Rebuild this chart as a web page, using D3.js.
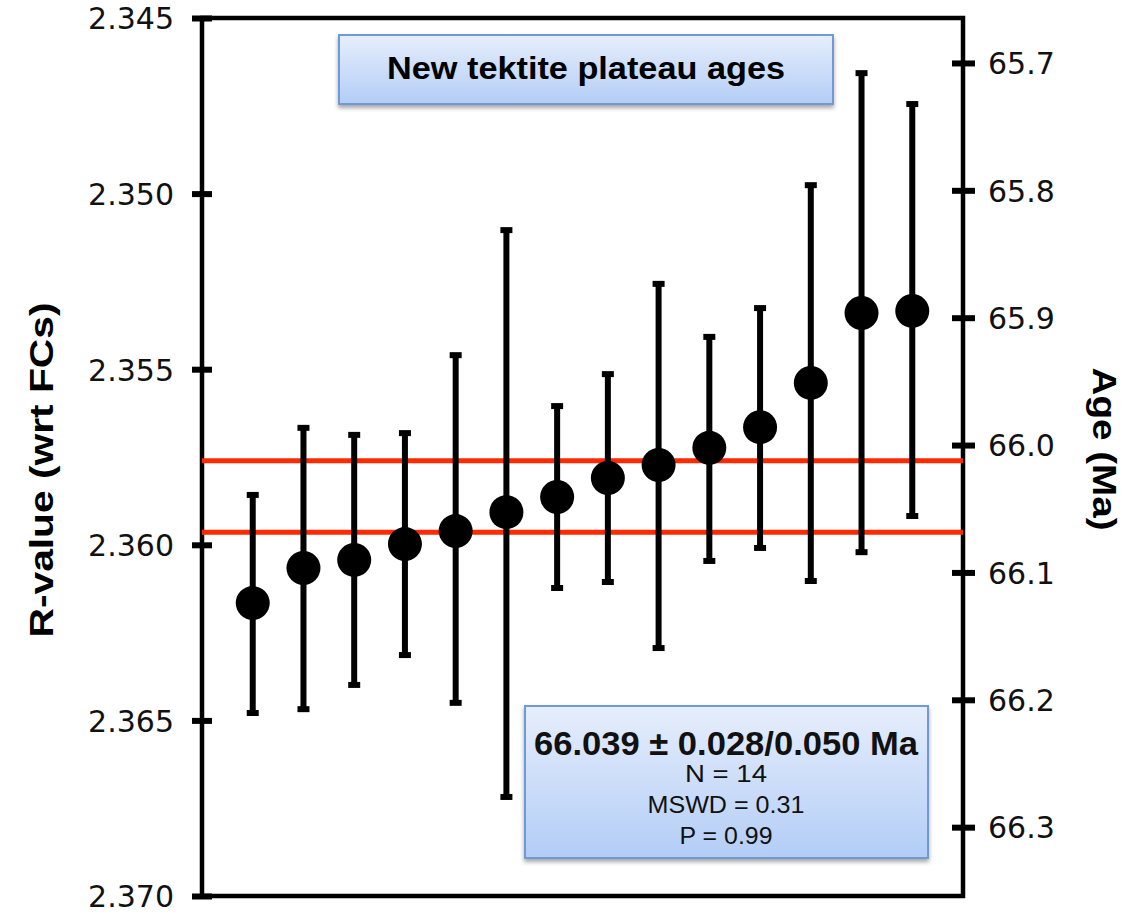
<!DOCTYPE html>
<html>
<head>
<meta charset="utf-8">
<script src="https://cdn.jsdelivr.net/npm/d3@7"></script>
<style>
  body { margin: 0; background: #fff; }
  svg { display: block; }
</style>
</head>
<body>
<svg id="chart"></svg>
<script>
// tektite plateau R-values
const samples = [1, 2, 3, 4, 5, 6, 7, 8, 9, 10, 11, 12, 13, 14];
const rValue = [2.36166, 2.36066, 2.36043, 2.35998, 2.35961, 2.35907, 2.35864,
                2.35810, 2.35773, 2.35724, 2.35665, 2.35539, 2.35340, 2.35334];
const rUpper = [2.35858, 2.35667, 2.35687, 2.35682, 2.35460, 2.35104, 2.35605,
                2.35514, 2.35257, 2.35408, 2.35326, 2.34976, 2.34657, 2.34745];
const rLower = [2.36479, 2.36468, 2.36399, 2.36314, 2.36450, 2.36718, 2.36123,
                2.36106, 2.36294, 2.36046, 2.36009, 2.36103, 2.36021, 2.35918];
const meanBand = [2.35761, 2.35964];

const rTicks = [2.345, 2.350, 2.355, 2.360, 2.365, 2.370];
const ageTicks = [65.7, 65.8, 65.9, 66.0, 66.1, 66.2, 66.3];
const ageAnchorR = [2.34628, 2.36804]; // R at 65.7 and 66.3 Ma

const titleText = 'New tektite plateau ages';
const statLines = ['66.039 \u00b1 0.028/0.050 Ma', 'N = 14', 'MSWD = 0.31', 'P = 0.99'];

const W = 1130, H = 915;
const margin = { top: 18, right: 167, bottom: 19, left: 202 };

const svg = d3.select('#chart').attr('width', W).attr('height', H);

const x = d3.scaleLinear().domain([0, 15]).range([margin.left, W - margin.right]);
const y = d3.scaleLinear().domain([2.345, 2.370]).range([margin.top, H - margin.bottom]);
const age = d3.scaleLinear().domain([65.7, 66.3]).range(ageAnchorR.map(y));

const defs = svg.append('defs');
const grad = defs.append('linearGradient').attr('id', 'boxFill')
  .attr('x1', 0).attr('y1', 0).attr('x2', 0).attr('y2', 1);
grad.append('stop').attr('offset', '0%').attr('stop-color', '#e6eefc');
grad.append('stop').attr('offset', '100%').attr('stop-color', '#b3cdf6');
defs.append('filter').attr('id', 'shadow')
  .attr('x', '-10%').attr('y', '-10%').attr('width', '120%').attr('height', '130%')
  .append('feDropShadow')
  .attr('dx', 0).attr('dy', 3).attr('stdDeviation', 2)
  .attr('flood-color', '#000').attr('flood-opacity', 0.35);

// frame
svg.append('rect')
  .attr('x', margin.left).attr('y', margin.top)
  .attr('width', W - margin.left - margin.right)
  .attr('height', H - margin.top - margin.bottom)
  .attr('fill', 'none').attr('stroke', '#000').attr('stroke-width', 4.5);

// left axis
const gl = svg.append('g')
  .attr('transform', `translate(${margin.left},0)`)
  .call(d3.axisLeft(y).tickValues(rTicks).tickFormat(d3.format('.3f')).tickSize(10));
gl.select('.domain').remove();
gl.selectAll('.tick line').attr('x1', 10).attr('x2', -10)
  .attr('stroke', '#000').attr('stroke-width', 6);
gl.selectAll('.tick text').attr('x', -28).attr('dy', '0.36em')
  .attr('font-family', 'DejaVu Sans').attr('font-size', 30).attr('fill', '#111');

// right axis
const gr = svg.append('g')
  .attr('transform', `translate(${W - margin.right},0)`)
  .call(d3.axisRight(age).tickValues(ageTicks).tickFormat(d3.format('.1f')).tickSize(12));
gr.select('.domain').remove();
gr.selectAll('.tick line').attr('x1', -11).attr('x2', 12)
  .attr('stroke', '#000').attr('stroke-width', 6);
gr.selectAll('.tick text').attr('x', 25).attr('dy', '0.36em')
  .attr('font-family', 'DejaVu Sans').attr('font-size', 30).attr('fill', '#111');

// axis titles
svg.append('text')
  .attr('transform', 'translate(53,470) rotate(-90)')
  .attr('text-anchor', 'middle')
  .attr('font-family', 'Liberation Sans, Arial, sans-serif')
  .attr('font-weight', 'bold').attr('font-size', 33)
  .attr('textLength', 335).attr('lengthAdjust', 'spacingAndGlyphs')
  .text('R-value (wrt FCs)');

svg.append('text')
  .attr('transform', 'translate(1093,449) rotate(90)')
  .attr('text-anchor', 'middle')
  .attr('font-family', 'Liberation Sans, Arial, sans-serif')
  .attr('font-weight', 'bold').attr('font-size', 34)
  .attr('textLength', 163).attr('lengthAdjust', 'spacingAndGlyphs')
  .text('Age (Ma)');

// weighted mean band
svg.append('g').selectAll('line')
  .data(meanBand)
  .join('line')
  .attr('x1', margin.left).attr('x2', W - margin.right)
  .attr('y1', d => y(d)).attr('y2', d => y(d))
  .attr('stroke', '#ff2a00').attr('stroke-width', 5);

// error bars
const bars = svg.append('g').selectAll('g')
  .data(samples)
  .join('g');
bars.append('line')
  .attr('x1', d => x(d)).attr('x2', d => x(d))
  .attr('y1', (d, i) => y(rUpper[i])).attr('y2', (d, i) => y(rLower[i]))
  .attr('stroke', '#000').attr('stroke-width', 6);
bars.append('line')
  .attr('x1', d => x(d) - 6).attr('x2', d => x(d) + 6)
  .attr('y1', (d, i) => y(rUpper[i])).attr('y2', (d, i) => y(rUpper[i]))
  .attr('stroke', '#000').attr('stroke-width', 6);
bars.append('line')
  .attr('x1', d => x(d) - 6).attr('x2', d => x(d) + 6)
  .attr('y1', (d, i) => y(rLower[i])).attr('y2', (d, i) => y(rLower[i]))
  .attr('stroke', '#000').attr('stroke-width', 6);
bars.append('circle')
  .attr('cx', d => x(d))
  .attr('cy', (d, i) => y(rValue[i]))
  .attr('r', 17)
  .attr('fill', '#000');

// title box
svg.append('rect')
  .attr('x', 339).attr('y', 35).attr('width', 494).attr('height', 69)
  .attr('fill', 'url(#boxFill)').attr('stroke', '#6f9ad6').attr('stroke-width', 2)
  .attr('filter', 'url(#shadow)');
svg.append('text')
  .attr('x', 586).attr('y', 79)
  .attr('text-anchor', 'middle')
  .attr('font-family', 'Liberation Sans, Arial, sans-serif')
  .attr('font-weight', 'bold').attr('font-size', 31)
  .attr('textLength', 398).attr('lengthAdjust', 'spacingAndGlyphs')
  .text(titleText);

// stats box
svg.append('rect')
  .attr('x', 525).attr('y', 706).attr('width', 403).attr('height', 152)
  .attr('fill', 'url(#boxFill)').attr('stroke', '#6f9ad6').attr('stroke-width', 2)
  .attr('filter', 'url(#shadow)');
const statY = [755, 782, 813, 844];
const statSize = [33, 24, 24, 24];
const statLen = [384, 82, 157, 93];
svg.append('g').selectAll('text')
  .data(statLines)
  .join('text')
  .attr('x', 726)
  .attr('y', (d, i) => statY[i])
  .attr('text-anchor', 'middle')
  .attr('font-family', 'Liberation Sans, Arial, sans-serif')
  .attr('font-weight', (d, i) => i === 0 ? 'bold' : 'normal')
  .attr('font-size', (d, i) => statSize[i])
  .attr('textLength', (d, i) => statLen[i])
  .attr('lengthAdjust', 'spacingAndGlyphs')
  .attr('fill', '#111')
  .text(d => d);
</script>
</body>
</html>
